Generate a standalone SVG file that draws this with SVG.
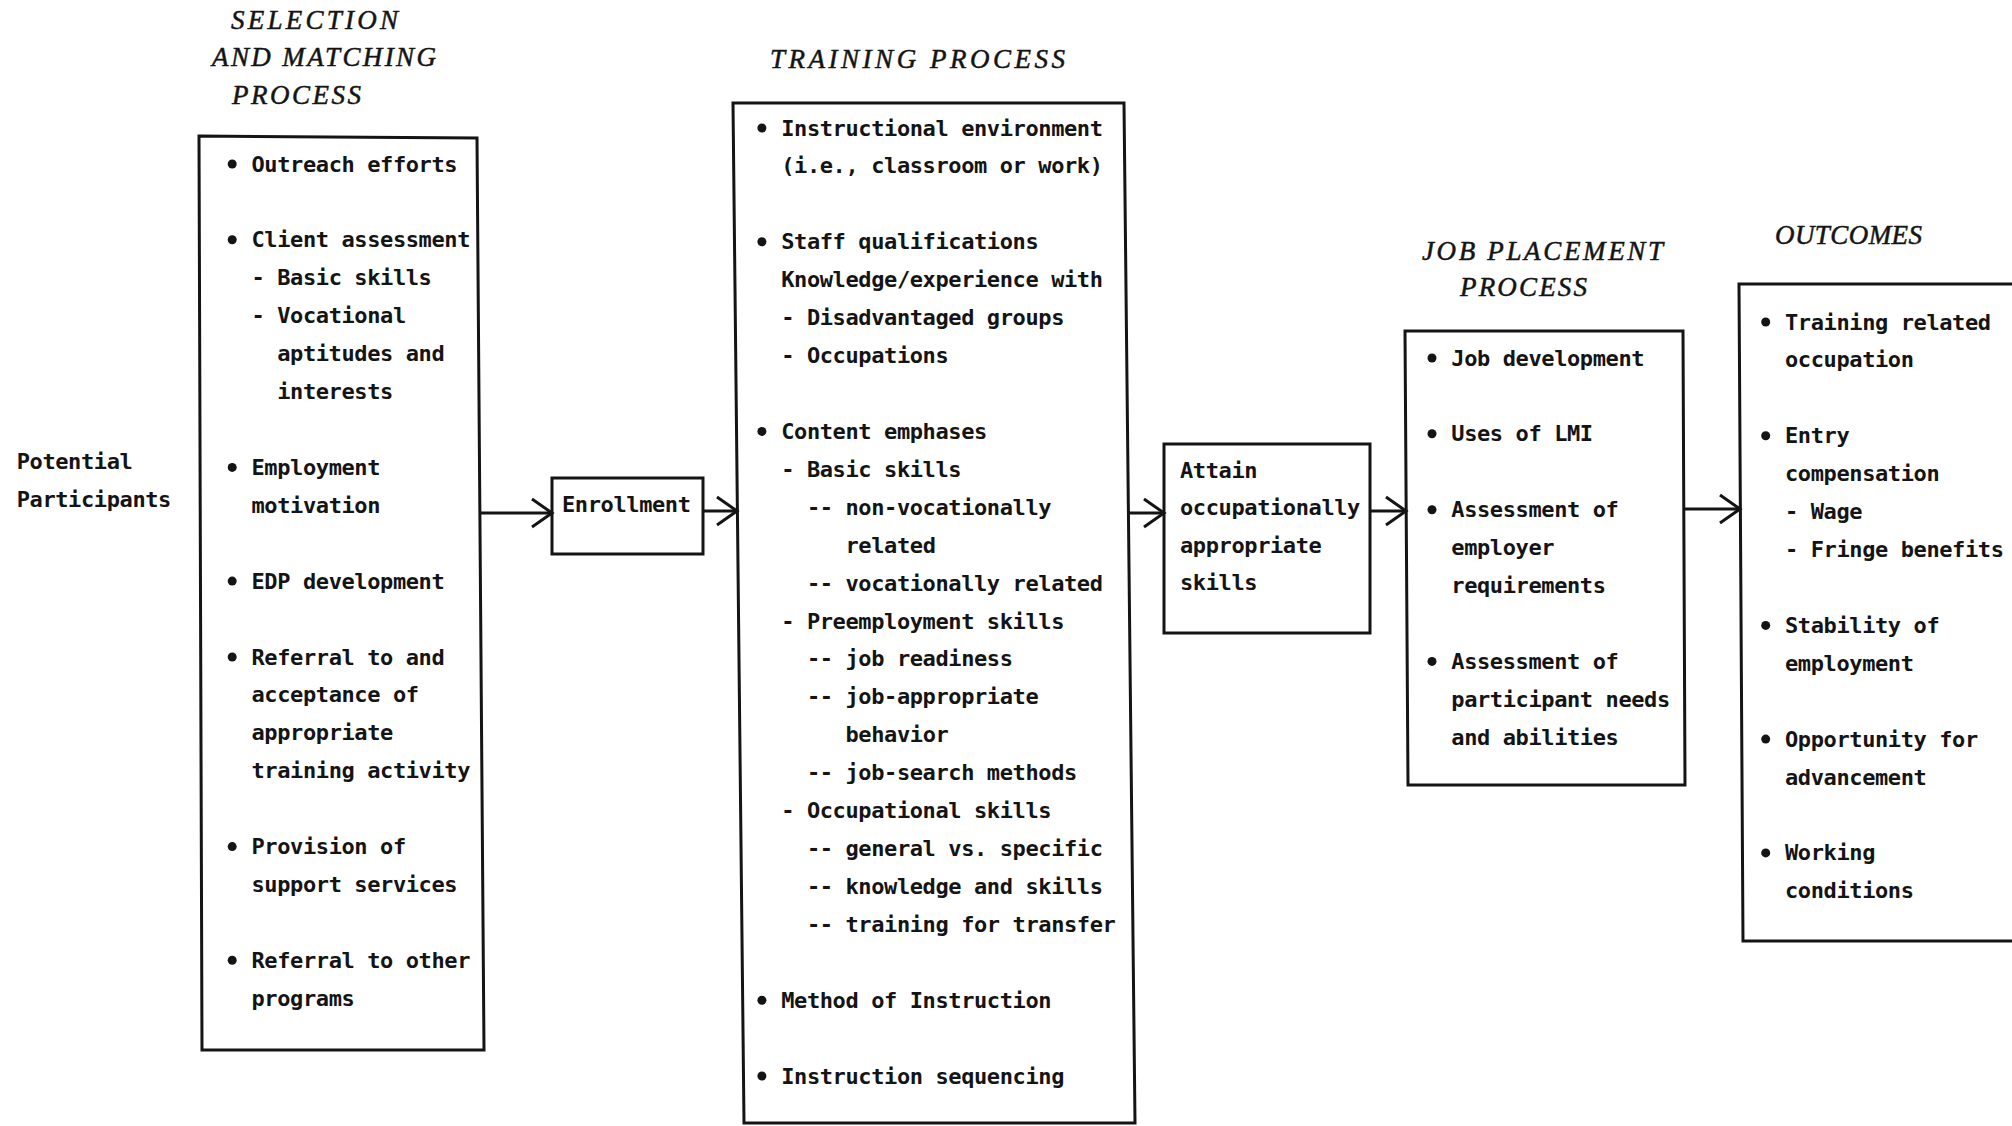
<svg xmlns="http://www.w3.org/2000/svg" width="2012" height="1126" viewBox="0 0 2012 1126">
<style>
.t { font-family: "DejaVu Sans Mono", "Liberation Mono", monospace; font-size: 22px; font-weight: bold; letter-spacing: -0.39px; fill: #141414; }
.h { font-family: "Liberation Serif", serif; font-style: italic; font-size: 27px; fill: #141414; stroke: #141414; stroke-width: 0.5; }
.box { fill: none; stroke: #141414; stroke-width: 3; stroke-linejoin: miter; }
.conn { stroke: #141414; stroke-width: 3; fill: none; marker-end: url(#arrow); }
.b { fill: #141414; }
</style>
<defs>
<marker id="arrow" markerUnits="userSpaceOnUse" markerWidth="30" markerHeight="34" refX="22" refY="16" orient="auto" viewBox="0 0 30 34">
<path d="M2 2 L22 16 L2 30" fill="none" stroke="#141414" stroke-width="3"/>
</marker>
</defs>
<rect x="0" y="0" width="2012" height="1126" fill="#ffffff"/>

<g id="potential-participants">
<text class="t" x="16.7" y="469">Potential</text>
<text class="t" x="16.7" y="507">Participants</text>
</g>

<g id="selection-matching">
<text class="h" x="231" y="29" textLength="167" lengthAdjust="spacing">SELECTION</text>
<text class="h" x="212" y="66" textLength="224" lengthAdjust="spacing">AND MATCHING</text>
<text class="h" x="232" y="104" textLength="129" lengthAdjust="spacing">PROCESS</text>
<path class="box" d="M199 136 L477 138 L484 1050 L202 1050 Z"/>
<g transform="translate(0,2.5)">
<circle class="b" cx="232.2" cy="161.5" r="4.5"/>
<text class="t" x="251.5" y="169">Outreach efforts</text>
<circle class="b" cx="232.2" cy="237.3" r="4.5"/>
<text class="t" x="251.5" y="244.8">Client assessment</text>
<text class="t" x="251.5" y="282.8">- Basic skills</text>
<text class="t" x="251.5" y="320.7">- Vocational</text>
<text class="t" x="277.2" y="358.6">aptitudes and</text>
<text class="t" x="277.2" y="396.5">interests</text>
<circle class="b" cx="232.2" cy="464.9" r="4.5"/>
<text class="t" x="251.5" y="472.4">Employment</text>
<text class="t" x="251.5" y="510.3">motivation</text>
<circle class="b" cx="232.2" cy="578.6" r="4.5"/>
<text class="t" x="251.5" y="586.1">EDP development</text>
<circle class="b" cx="232.2" cy="654.5" r="4.5"/>
<text class="t" x="251.5" y="662">Referral to and</text>
<text class="t" x="251.5" y="699.9">acceptance of</text>
<text class="t" x="251.5" y="737.8">appropriate</text>
<text class="t" x="251.5" y="775.7">training activity</text>
<circle class="b" cx="232.2" cy="844.1" r="4.5"/>
<text class="t" x="251.5" y="851.6">Provision of</text>
<text class="t" x="251.5" y="889.5">support services</text>
<circle class="b" cx="232.2" cy="957.8" r="4.5"/>
<text class="t" x="251.5" y="965.3">Referral to other</text>
<text class="t" x="251.5" y="1003.2">programs</text>
</g>
</g>

<g id="enrollment">
<rect class="box" x="552" y="478" width="151" height="76"/>
<text class="t" x="562" y="512">Enrollment</text>
</g>

<g id="training-process">
<text class="h" x="770" y="68" textLength="295" lengthAdjust="spacing">TRAINING PROCESS</text>
<path class="box" d="M733 103 L1124 103 L1135 1123 L744 1123 Z"/>
<g transform="translate(0,3.5)">
<circle class="b" cx="761.9" cy="124.5" r="4.5"/>
<text class="t" x="781.2" y="132">Instructional environment</text>
<text class="t" x="781.2" y="169.9">(i.e., classroom or work)</text>
<circle class="b" cx="761.9" cy="238.3" r="4.5"/>
<text class="t" x="781.2" y="245.8">Staff qualifications</text>
<text class="t" x="781.2" y="283.7">Knowledge/experience with</text>
<text class="t" x="781.2" y="321.6">- Disadvantaged groups</text>
<text class="t" x="781.2" y="359.5">- Occupations</text>
<circle class="b" cx="761.9" cy="427.9" r="4.5"/>
<text class="t" x="781.2" y="435.4">Content emphases</text>
<text class="t" x="781.2" y="473.3">- Basic skills</text>
<text class="t" x="806.9" y="511.2">-- non-vocationally</text>
<text class="t" x="845.5" y="549.1">related</text>
<text class="t" x="806.9" y="587">-- vocationally related</text>
<text class="t" x="781.2" y="625">- Preemployment skills</text>
<text class="t" x="806.9" y="662.9">-- job readiness</text>
<text class="t" x="806.9" y="700.8">-- job-appropriate</text>
<text class="t" x="845.5" y="738.7">behavior</text>
<text class="t" x="806.9" y="776.6">-- job-search methods</text>
<text class="t" x="781.2" y="814.6">- Occupational skills</text>
<text class="t" x="806.9" y="852.5">-- general vs. specific</text>
<text class="t" x="806.9" y="890.4">-- knowledge and skills</text>
<text class="t" x="806.9" y="928.3">-- training for transfer</text>
<circle class="b" cx="761.9" cy="996.7" r="4.5"/>
<text class="t" x="781.2" y="1004.2">Method of Instruction</text>
<circle class="b" cx="761.9" cy="1072.5" r="4.5"/>
<text class="t" x="781.2" y="1080">Instruction sequencing</text>
</g>
</g>

<g id="attain-skills">
<rect class="box" x="1164" y="444" width="206" height="189"/>
<text class="t" x="1180" y="477.5">Attain</text>
<text class="t" x="1180" y="515">occupationally</text>
<text class="t" x="1180" y="552.5">appropriate</text>
<text class="t" x="1180" y="589.5">skills</text>
</g>

<g id="job-placement">
<text class="h" x="1422" y="260" textLength="241" lengthAdjust="spacing">JOB PLACEMENT</text>
<text class="h" x="1460" y="296" textLength="127" lengthAdjust="spacing">PROCESS</text>
<path class="box" d="M1405 331 L1683 331 L1685 785 L1408 785 Z"/>
<g transform="translate(0,2.5)">
<circle class="b" cx="1432" cy="355.5" r="4.5"/>
<text class="t" x="1451.3" y="363">Job development</text>
<circle class="b" cx="1432" cy="431.3" r="4.5"/>
<text class="t" x="1451.3" y="438.8">Uses of LMI</text>
<circle class="b" cx="1432" cy="507.2" r="4.5"/>
<text class="t" x="1451.3" y="514.7">Assessment of</text>
<text class="t" x="1451.3" y="552.6">employer</text>
<text class="t" x="1451.3" y="590.5">requirements</text>
<circle class="b" cx="1432" cy="658.9" r="4.5"/>
<text class="t" x="1451.3" y="666.4">Assessment of</text>
<text class="t" x="1451.3" y="704.3">participant needs</text>
<text class="t" x="1451.3" y="742.2">and abilities</text>
</g>
</g>

<g id="outcomes">
<text class="h" x="1775" y="244" textLength="147" lengthAdjust="spacing">OUTCOMES</text>
<path class="box" d="M2020 284 L1739 284 L1743 941 L2020 941"/>
<g transform="translate(0,2.5)">
<circle class="b" cx="1765.7" cy="319.5" r="4.5"/>
<text class="t" x="1785" y="327">Training related</text>
<text class="t" x="1785" y="364.9">occupation</text>
<circle class="b" cx="1765.7" cy="433.3" r="4.5"/>
<text class="t" x="1785" y="440.8">Entry</text>
<text class="t" x="1785" y="478.7">compensation</text>
<text class="t" x="1785" y="516.6">- Wage</text>
<text class="t" x="1785" y="554.5">- Fringe benefits</text>
<circle class="b" cx="1765.7" cy="622.9" r="4.5"/>
<text class="t" x="1785" y="630.4">Stability of</text>
<text class="t" x="1785" y="668.3">employment</text>
<circle class="b" cx="1765.7" cy="736.6" r="4.5"/>
<text class="t" x="1785" y="744.1">Opportunity for</text>
<text class="t" x="1785" y="782">advancement</text>
<circle class="b" cx="1765.7" cy="850.4" r="4.5"/>
<text class="t" x="1785" y="857.9">Working</text>
<text class="t" x="1785" y="895.8">conditions</text>
</g>
</g>

<g id="connectors">
<line class="conn" x1="479" y1="513" x2="552" y2="513"/>
<line class="conn" x1="703" y1="511" x2="737" y2="511"/>
<line class="conn" x1="1128" y1="513" x2="1164" y2="513"/>
<line class="conn" x1="1370" y1="511" x2="1406" y2="511"/>
<line class="conn" x1="1684" y1="509" x2="1740" y2="509"/>
</g>
</svg>
